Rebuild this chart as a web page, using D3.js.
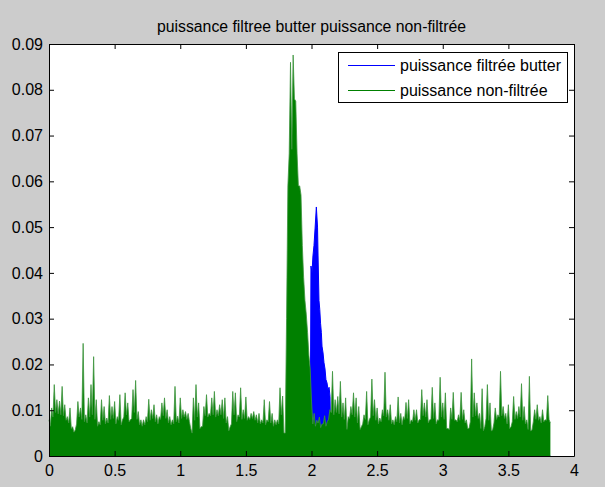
<!DOCTYPE html>
<html>
<head>
<meta charset="utf-8">
<script src="https://cdn.jsdelivr.net/npm/d3@7"></script>
<style>
  html, body { margin: 0; padding: 0; background: #cccccc; }
  svg { display: block; }
  text { font-family: "Liberation Sans", Arial, Helvetica, sans-serif; fill: #000; }
</style>
</head>
<body>
<svg id="chart" width="605" height="487"></svg>
<script>
// Axis ticks and labels
const xTickValues = [0, 0.5, 1, 1.5, 2, 2.5, 3, 3.5, 4];
const xTickLabels = ["0", "0.5", "1", "1.5", "2", "2.5", "3", "3.5", "4"];
const yTickValues = [0, 0.01, 0.02, 0.03, 0.04, 0.05, 0.06, 0.07, 0.08, 0.09];
const yTickLabels = ["0", "0.01", "0.02", "0.03", "0.04", "0.05", "0.06", "0.07", "0.08", "0.09"];

const titleText = "puissance filtree butter puissance non-filtrée";
const seriesNames = ["puissance filtrée butter", "puissance non-filtrée"];

// Unfiltered power: local maxima sampled every 0.02 starting at t = 0
const rawStep = 0.02;
const rawPower = [
  0.0079, 0.0105, 0.0156, 0.0123, 0.0120, 0.0152, 0.0112, 0.0086, 0.0105, 0.0064,
  0.0057, 0.0119, 0.0105, 0.0246, 0.0090, 0.0127, 0.0156, 0.0217, 0.0123, 0.0075,
  0.0123, 0.0108, 0.0083, 0.0132, 0.0108, 0.0119, 0.0086, 0.0134, 0.0079, 0.0138,
  0.0116, 0.0079, 0.0145, 0.0165, 0.0097, 0.0079, 0.0079, 0.0086, 0.0124, 0.0101,
  0.0112, 0.0090, 0.0086, 0.0116, 0.0127, 0.0101, 0.0086, 0.0079, 0.0152, 0.0087,
  0.0127, 0.0101, 0.0097, 0.0093, 0.0060, 0.0127, 0.0156, 0.0116, 0.0064, 0.0108,
  0.0134, 0.0093, 0.0127, 0.0141, 0.0101, 0.0112, 0.0123, 0.0127, 0.0086, 0.0064,
  0.0141, 0.0138, 0.0090, 0.0149, 0.0101, 0.0129, 0.0086, 0.0093, 0.0097, 0.0090,
  0.0093, 0.0079, 0.0123, 0.0079, 0.0119, 0.0093, 0.0079, 0.0079, 0.0149, 0.0131,
  0.0050, 0.0590, 0.0860, 0.0876, 0.0775, 0.0590, 0.0570, 0.0390, 0.0310, 0.0220,
  0.0120, 0.0093, 0.0078, 0.0085, 0.0070, 0.0088, 0.0075, 0.0101, 0.0185, 0.0123,
  0.0130, 0.0163, 0.0116, 0.0127, 0.0086, 0.0108, 0.0138, 0.0127, 0.0108, 0.0064,
  0.0090, 0.0141, 0.0079, 0.0168, 0.0123, 0.0105, 0.0083, 0.0101, 0.0183, 0.0101,
  0.0112, 0.0079, 0.0086, 0.0129, 0.0093, 0.0086, 0.0117, 0.0123, 0.0079, 0.0101,
  0.0101, 0.0079, 0.0145, 0.0116, 0.0123, 0.0079, 0.0150, 0.0116, 0.0079, 0.0172,
  0.0116, 0.0138, 0.0060, 0.0105, 0.0139, 0.0079, 0.0090, 0.0139, 0.0101, 0.0079,
  0.0060, 0.0212, 0.0138, 0.0116, 0.0093, 0.0147, 0.0064, 0.0156, 0.0116, 0.0057,
  0.0105, 0.0090, 0.0185, 0.0108, 0.0093, 0.0112, 0.0064, 0.0130, 0.0097, 0.0108,
  0.0158, 0.0108, 0.0079, 0.0174, 0.0057, 0.0101, 0.0112, 0.0086, 0.0101, 0.0079,
  0.0132, 0.0072
];

// Unfiltered power: troughs between consecutive maxima (at t = 0.01, 0.03, ...)
const rawTrough = [
  0.0065, 0.0085, 0.0095, 0.0092, 0.0090, 0.0088, 0.0078, 0.0072, 0.0060, 0.0052,
  0.0070, 0.0085, 0.0080, 0.0075, 0.0072, 0.0085, 0.0090, 0.0080, 0.0065, 0.0068,
  0.0078, 0.0070, 0.0072, 0.0080, 0.0082, 0.0070, 0.0078, 0.0068, 0.0085, 0.0090,
  0.0075, 0.0082, 0.0095, 0.0080, 0.0068, 0.0065, 0.0068, 0.0075, 0.0078, 0.0082,
  0.0075, 0.0070, 0.0080, 0.0088, 0.0082, 0.0072, 0.0068, 0.0070, 0.0075, 0.0072,
  0.0082, 0.0085, 0.0080, 0.0075, 0.0050, 0.0078, 0.0085, 0.0060, 0.0065, 0.0088,
  0.0085, 0.0088, 0.0090, 0.0085, 0.0088, 0.0090, 0.0082, 0.0072, 0.0055, 0.0070,
  0.0090, 0.0075, 0.0085, 0.0080, 0.0082, 0.0078, 0.0080, 0.0082, 0.0078, 0.0072,
  0.0070, 0.0072, 0.0068, 0.0075, 0.0072, 0.0065, 0.0068, 0.0070, 0.0090, 0.0050,
  0.0300, 0.0660, 0.0670, 0.0780, 0.0660, 0.0590, 0.0460, 0.0340, 0.0270, 0.0190,
  0.0070, 0.0065, 0.0072, 0.0062, 0.0070, 0.0065, 0.0080, 0.0095, 0.0090, 0.0095,
  0.0092, 0.0085, 0.0080, 0.0058, 0.0082, 0.0090, 0.0085, 0.0072, 0.0058, 0.0070,
  0.0080, 0.0068, 0.0085, 0.0088, 0.0078, 0.0070, 0.0075, 0.0088, 0.0085, 0.0078,
  0.0070, 0.0068, 0.0075, 0.0072, 0.0068, 0.0080, 0.0082, 0.0070, 0.0075, 0.0078,
  0.0072, 0.0080, 0.0088, 0.0085, 0.0072, 0.0080, 0.0082, 0.0070, 0.0078, 0.0085,
  0.0080, 0.0060, 0.0058, 0.0080, 0.0078, 0.0075, 0.0078, 0.0080, 0.0072, 0.0060,
  0.0075, 0.0085, 0.0088, 0.0082, 0.0060, 0.0055, 0.0082, 0.0078, 0.0055, 0.0072,
  0.0080, 0.0085, 0.0088, 0.0082, 0.0070, 0.0060, 0.0075, 0.0080, 0.0082, 0.0085,
  0.0078, 0.0070, 0.0058, 0.0055, 0.0075, 0.0080, 0.0078, 0.0072, 0.0075, 0.0078,
  0.0080
];

// Butterworth-filtered power: times and values
const butterT = [0, 1.990, 1.996, 2.004, 2.011, 2.019, 2.027, 2.037, 2.046, 2.050,
                 2.057, 2.063, 2.069, 2.075, 2.080, 2.088, 2.095, 2.103, 2.110, 2.118,
                 2.126, 2.134, 2.141, 2.149, 3.82];
const butterPower = [0, 0, 0.0415, 0.0400, 0.0437, 0.0460, 0.0496, 0.0544, 0.0500, 0.0437,
                     0.0340, 0.0320, 0.0290, 0.0270, 0.0240, 0.0225, 0.0204, 0.0190, 0.0167, 0.0160,
                     0.0145, 0.0150, 0.0130, 0, 0];

// Merge maxima and troughs into one time-ordered series
const rawSeries = [];
rawPower.forEach((v, i) => {
  rawSeries.push({ t: i * rawStep, v });
  if (i < rawTrough.length) rawSeries.push({ t: (i + 0.5) * rawStep, v: rawTrough[i] });
});
const butterSeries = butterT.map((t, i) => ({ t, v: butterPower[i] }));

const svg = d3.select("#chart");
const plotLeft = 49, plotRight = 574, plotTop = 44, plotBottom = 456;

const x = d3.scaleLinear().domain([0, 4]).range([plotLeft, plotRight]);
const y = d3.scaleLinear().domain([0, 0.09]).range([plotBottom, plotTop]);

// Axes background
svg.append("rect")
  .attr("x", plotLeft).attr("y", plotTop)
  .attr("width", plotRight - plotLeft).attr("height", plotBottom - plotTop)
  .attr("fill", "#ffffff");

const plot = svg.append("g");

const area = d3.area()
  .x(d => x(d.t))
  .y0(y(0))
  .y1(d => y(d.v));

const line = d3.line()
  .x(d => x(d.t))
  .y(d => y(d.v));

// Filtered series first, unfiltered drawn over it
plot.append("path")
  .datum(butterSeries)
  .attr("d", area)
  .attr("fill", "#0000ff");
plot.append("path")
  .datum(butterSeries)
  .attr("d", line)
  .attr("fill", "none")
  .attr("stroke", "#0000ff")
  .attr("stroke-width", 1);

plot.append("path")
  .datum(rawSeries)
  .attr("d", area)
  .attr("fill", "#008000");
plot.append("path")
  .datum(rawSeries)
  .attr("d", line)
  .attr("fill", "none")
  .attr("stroke", "#3d943d")
  .attr("stroke-width", 0.8);

// Axes with inward ticks on all four sides
const tickLen = 5;
const labelFont = 16;
svg.append("g")
  .attr("transform", `translate(0,${plotBottom})`)
  .call(d3.axisBottom(x).tickValues(xTickValues)
    .tickFormat((d, i) => xTickLabels[i])
    .tickSizeInner(-tickLen).tickSizeOuter(0).tickPadding(9))
  .call(g => g.selectAll("text").attr("font-size", labelFont)
    .style("font-family", "'Liberation Sans', Arial, sans-serif"));

svg.append("g")
  .attr("transform", `translate(0,${plotTop})`)
  .call(d3.axisTop(x).tickValues(xTickValues).tickFormat("")
    .tickSizeInner(-tickLen).tickSizeOuter(0));

svg.append("g")
  .attr("transform", `translate(${plotLeft},0)`)
  .call(d3.axisLeft(y).tickValues(yTickValues)
    .tickFormat((d, i) => yTickLabels[i])
    .tickSizeInner(-tickLen).tickSizeOuter(0).tickPadding(6))
  .call(g => g.selectAll("text").attr("font-size", labelFont)
    .style("font-family", "'Liberation Sans', Arial, sans-serif"));

svg.append("g")
  .attr("transform", `translate(${plotRight},0)`)
  .call(d3.axisRight(y).tickValues(yTickValues).tickFormat("")
    .tickSizeInner(-tickLen).tickSizeOuter(0));

svg.selectAll(".domain").attr("stroke", "#000");
svg.selectAll(".tick line").attr("stroke", "#000");

// Title
svg.append("text")
  .attr("x", (plotLeft + plotRight) / 2)
  .attr("y", 32)
  .attr("text-anchor", "middle")
  .attr("font-size", 15.8)
  .text(titleText);

// Legend
const legend = svg.append("g");
legend.append("rect")
  .attr("x", 338.5).attr("y", 52.5)
  .attr("width", 229).attr("height", 50)
  .attr("fill", "#ffffff")
  .attr("stroke", "#000")
  .attr("stroke-width", 1);
const legendColors = ["#0000ff", "#008000"];
seriesNames.forEach((name, i) => {
  const ly = 65 + i * 25;
  legend.append("line")
    .attr("x1", 348).attr("x2", 395)
    .attr("y1", ly + 0.5).attr("y2", ly + 0.5)
    .attr("stroke", legendColors[i]).attr("stroke-width", 1);
  legend.append("text")
    .attr("x", 400).attr("y", ly + 5.5)
    .attr("font-size", labelFont)
    .text(name);
});
</script>
</body>
</html>
